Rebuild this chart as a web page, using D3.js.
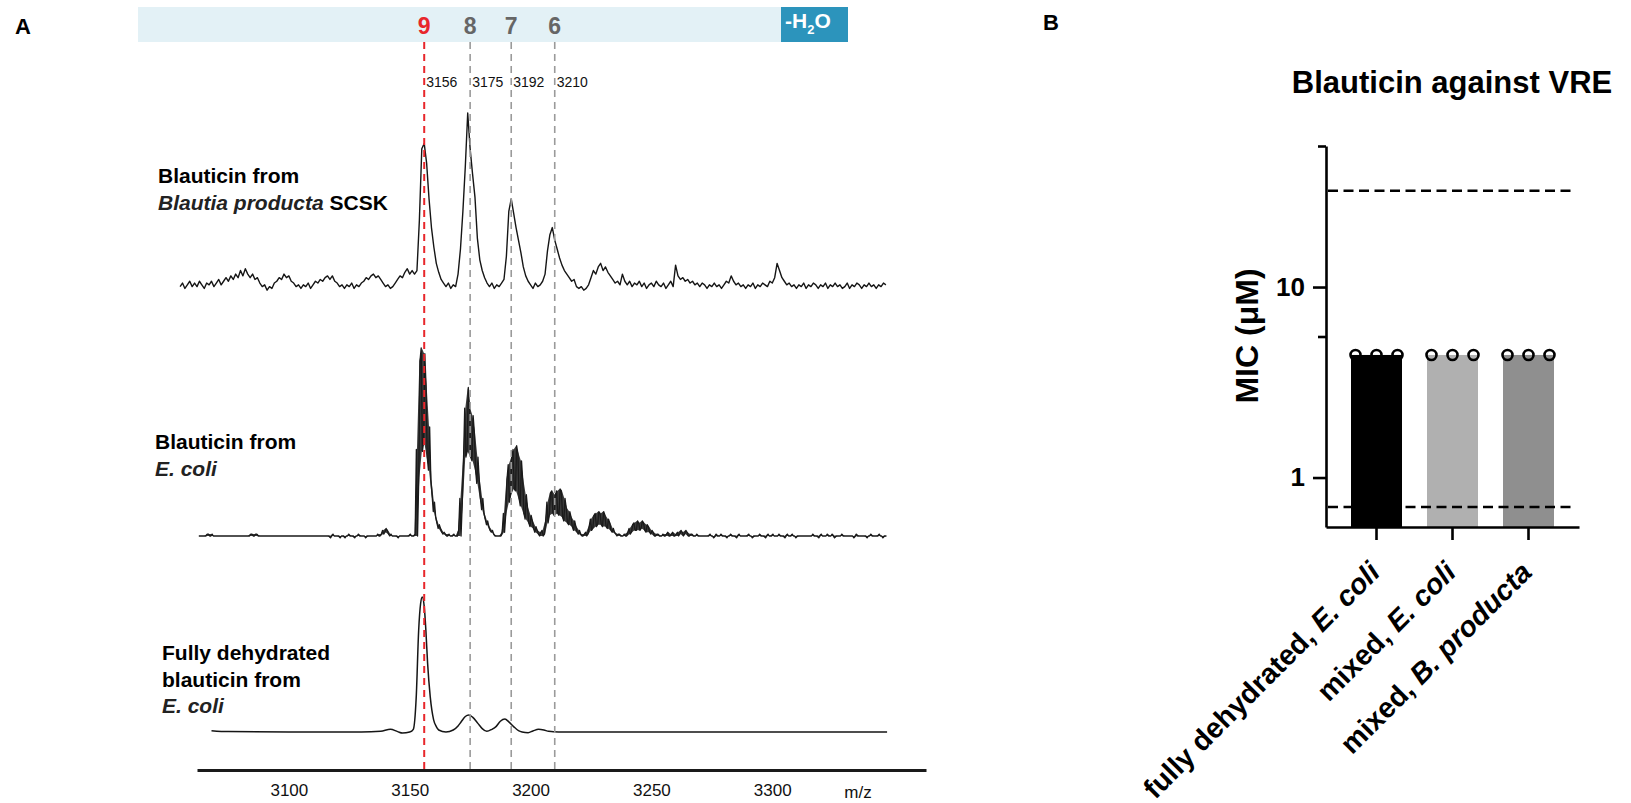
<!DOCTYPE html>
<html>
<head>
<meta charset="utf-8">
<script src="https://cdn.jsdelivr.net/npm/d3@7"></script>
<style>
  html, body { margin: 0; padding: 0; background: #fff; }
  svg { display: block; font-family: "Liberation Sans", Arial, Helvetica, sans-serif; }
</style>
</head>
<body>
<svg id="fig" width="1631" height="803"></svg>
<script>
// ---------------- Panel A: MALDI-TOF spectra ----------------
const mzTicks = [3100, 3150, 3200, 3250, 3300];
const dehydrations = [9, 8, 7, 6];
const dehydrationMz = [3156, 3175, 3192, 3210];

// Blauticin from Blautia producta SCSK: relative intensity, 1 m/z bins from 3055
const scskStart = 3055;
const scskIntensity = [
  3,5,2,4,6,3,5,3,6,4,   2,5,4,6,3,5,7,4,6,8,   6,9,7,10,8,12,9,13,10,8,
  10,7,8,5,3,4,1,3,2,5,  6,8,7,10,8,9,6,5,3,4,  2,4,3,5,2,4,6,5,7,6,
  8,9,7,9,6,5,3,4,2,4,   3,5,2,4,3,5,6,8,7,9,   10,8,9,7,5,3,4,2,3,5,
  7,9,8,11,13,10,12,10,12,40,
  80,83,72,52,36,25,16,11,7,5,
  3,5,2,4,3,10,24,45,70,100,
  80,66,53,30,18,12,8,5,3,5,
  2,4,3,5,7,20,45,52,44,36,
  29,22,14,9,6,4,2,5,3,4,
  6,10,23,32,36,29,24,19,15,12,
  10,8,6,7,3,2,3,1,2,4,
  8,12,10,14,16,12,14,11,9,7,
  5,6,4,10,6,4,6,3,5,4,
  6,3,5,2,4,5,3,6,4,3,
  5,2,4,6,3,15,9,7,8,6,
  7,5,6,4,5,3,5,4,2,4,
  3,5,3,4,2,4,6,5,9,6,
  4,5,3,4,2,4,3,5,2,4,
  3,5,4,3,6,5,8,16,12,8,
  6,4,5,3,4,2,4,3,5,2,
  4,3,5,4,2,4,3,5,2,4,
  3,5,3,4,2,3,5,2,4,3,
  5,4,2,4,3,5,3,4,2,4,
  3,5,4
];

// Blauticin from E. coli: per-bin max / min intensity, 1 m/z bins from 3063
const ecoliStart = 3063;
const ecoliMax = [
  0,0,0,1,1,1,0,0,0,0,   0,0,0,0,0,0,0,0,0,0,   0,1,1,1,1,0,0,0,0,0,
  0,0,0,0,0,0,0,0,0,0,   0,0,0,0,0,0,0,0,0,0,   0,0,0,0,0,1,0,0,0,0,
  0,0,1,0,0,0,1,0,0,0,   0,0,0,0,1,1,3,4,3,1,   0,0,0,0,0,0,0,1,0,1,
  46,93,100,97,80,58,30,18,10,6,
  4,2,1,1,0,1,0,3,20,40,
  68,79,68,64,55,42,30,20,12,8,
  5,3,1,0,0,2,12,30,38,42,
  46,48,44,40,30,22,15,11,8,5,
  3,2,3,8,18,23,24,22,24,25,
  24,20,15,13,10,8,5,3,1,1,
  2,5,9,11,12,13,12,13,11,9,
  7,4,2,1,1,0,1,2,4,6,
  7,8,7,8,7,6,5,3,2,1,
  1,0,1,1,2,1,2,1,2,3,
  2,3,2,1,1,0,1,0,0,0,
  0,1,0,0,1,0,1,0,0,0,
  1,0,0,1,0,0,0,1,0,0,
  0,0,1,0,0,1,0,1,0,0,
  1,0,0,1,0,1,0,0,0,0,
  0,0,0,0,1,0,0,1,0,0,
  1,0,1,0,0,0,1,0,0,0,
  0,0,1,0,0,0,0,0,1,0,
  0,1,0,0,0
];
const ecoliMin = [
  0,0,0,0,0,0,0,0,0,0,   0,0,0,0,0,0,0,0,0,0,   0,0,0,0,0,0,0,0,0,0,
  0,0,0,0,0,0,0,0,0,0,   0,0,0,0,0,0,0,0,0,0,   0,0,0,0,-1,0,0,0,-1,0,
  -1,0,0,0,-1,0,0,0,0,-1, 0,0,0,0,0,0,1,2,1,0,  0,0,-1,0,0,0,0,0,0,0,
  0,31,45,50,42,35,22,13,7,4,
  2,1,0,0,0,0,0,0,0,18,
  42,45,42,40,35,28,20,14,9,6,
  3,2,0,0,0,0,2,12,18,22,
  25,24,20,16,12,9,7,5,4,2,
  1,0,0,1,7,11,12,11,12,11,
  10,8,7,6,5,3,2,1,0,0,
  0,1,3,4,5,6,6,5,5,4,
  3,2,1,0,0,0,0,0,1,2,
  3,3,3,4,3,2,2,1,0,0,
  0,0,0,0,0,0,0,0,0,1,
  0,1,0,0,0,0,0,0,0,0,
  0,0,0,-1,0,0,0,0,-1,0,
  0,0,-1,0,0,0,0,0,0,-1,
  0,0,0,0,-1,0,0,0,0,0,
  0,0,-1,0,0,0,0,-1,0,0,
  0,0,0,0,0,0,-1,0,0,0,
  0,0,0,-1,0,0,0,0,0,0,
  0,-1,0,0,0,0,-1,0,0,0,
  0,0,0,-1,0
];

// Fully dehydrated blauticin from E. coli (smooth profile)
const dehydMz = [3068, 3075, 3100, 3130, 3138, 3142, 3145, 3147, 3150, 3151.5,
  3152.7, 3153.7, 3154.5, 3155.2, 3156, 3156.7, 3157.4, 3158.5, 3159.9, 3161,
  3162, 3165, 3168, 3170, 3171.3, 3173, 3174.5, 3176, 3178.2, 3180,
  3181.9, 3184, 3185.7, 3187.5, 3189.4, 3191, 3193, 3195, 3196.5, 3199,
  3201, 3203.3, 3205.5, 3207.5, 3211.6, 3250, 3300, 3347.5];
const dehydIntensity = [1, 0.3, 0, 0, 0.5, 2, 0.3, -0.8, 0, 2,
  26, 75, 95, 100, 93, 75, 51, 26, 9, 4,
  1.5, 0, 1.5, 4.5, 7.6, 11.5, 12.6, 11, 6.4, 2.5,
  0.5, 2, 4, 8, 9.6, 7.5, 4, 1, 0, -0.5,
  0.8, 2, 1.5, 0.5, 0, 0, 0, 0];

// ---------------- Panel B: MIC against VRE ----------------
const categories = ["fully dehydrated, E. coli", "mixed, E. coli", "mixed, B. producta"];
const micValues = [4.4, 4.4, 4.4];
const micReplicates = [[4.4, 4.4, 4.4], [4.4, 4.4, 4.4], [4.4, 4.4, 4.4]];
const barColors = ["#000000", "#b0b0b0", "#8f8f8f"];
const concentrationRange = [32, 0.7];
const yMajorTicks = [1, 10];
const yMinorTicks = [5.5, 55];

const svg = d3.select("#fig");
svg.append("rect").attr("width", 1631).attr("height", 803).attr("fill", "#fff");

// ===== Panel A =====
const A = svg.append("g");
A.append("text").attr("x", 15).attr("y", 34).attr("font-size", 22).attr("font-weight", "bold").text("A");

const x = d3.scaleLinear().domain([3062, 3363.6]).range([197, 926]);
const yScsk = d3.scaleLinear().domain([0, 100]).range([292, 113]);
const yEcoli = d3.scaleLinear().domain([0, 100]).range([536, 348]);
const yDehyd = d3.scaleLinear().domain([0, 100]).range([732, 597]);

// dehydration banner
A.append("rect").attr("x", 138).attr("y", 7).attr("width", 643).attr("height", 35).attr("fill", "#e3f1f6");
A.append("rect").attr("x", 781).attr("y", 7).attr("width", 67).attr("height", 35).attr("fill", "#2c94bc");
const h2o = A.append("text").attr("x", 785).attr("y", 28).attr("fill", "#fff")
  .attr("font-size", 21).attr("font-weight", "bold");
h2o.append("tspan").text("-H");
h2o.append("tspan").attr("font-size", 13).attr("dy", 6).text("2");
h2o.append("tspan").attr("dy", -6).text("O");

// spectra
const lineGen = d3.line();
A.append("path")
  .attr("d", lineGen(scskIntensity.map((v, i) => [x(scskStart + i), yScsk(v)])))
  .attr("fill", "none").attr("stroke", "#151515").attr("stroke-width", 1.4).attr("stroke-linejoin", "round");

// dense E. coli spectrum: min/max band per bin plus a zigzag through the extremes
const ecoliBins = ecoliMax.map((mx, i) => ({ m: ecoliStart + i, hi: mx, lo: ecoliMin[i] }));
A.append("path")
  .attr("d", d3.area().x(d => x(d.m)).y0(d => yEcoli(d.lo)).y1(d => yEcoli(d.hi))(ecoliBins))
  .attr("fill", "#3a3a3a").attr("stroke", "none");
const ecoliPts = [];
ecoliBins.forEach((d, i) => {
  const first = i % 2 ? d.lo : d.hi, second = i % 2 ? d.hi : d.lo;
  ecoliPts.push([x(d.m - 0.25), yEcoli(first)], [x(d.m + 0.25), yEcoli(second)]);
});
A.append("path").attr("d", lineGen(ecoliPts))
  .attr("fill", "none").attr("stroke", "#1a1a1a").attr("stroke-width", 1.3).attr("stroke-linejoin", "round");

A.append("path")
  .attr("d", d3.line().curve(d3.curveMonotoneX)(dehydMz.map((m, i) => [x(m), yDehyd(dehydIntensity[i])])))
  .attr("fill", "none").attr("stroke", "#151515").attr("stroke-width", 1.5);

// sample labels
function multiLine(g, x0, baselines, lines) {
  lines.forEach((parts, li) => {
    const t = g.append("text").attr("x", x0).attr("y", baselines[li])
      .attr("font-size", 21).attr("font-weight", "bold").attr("fill", "#000");
    parts.forEach(p => {
      t.append("tspan").attr("font-style", p[1] ? "italic" : "normal")
        .attr("fill", p[1] ? "#222" : "#000").text(p[0]);
    });
  });
}
multiLine(A, 158, [183, 210], [[["Blauticin from", false]], [["Blautia producta", true], [" SCSK", false]]]);
multiLine(A, 155, [449, 476], [[["Blauticin from", false]], [["E. coli", true]]]);
multiLine(A, 162, [660, 687, 713], [[["Fully dehydrated", false]], [["blauticin from", false]], [["E. coli", true]]]);

// dehydration marker lines, numbers and masses
dehydrationMz.forEach((m, i) => {
  const red = dehydrations[i] === 9;
  A.append("line").attr("x1", x(m)).attr("x2", x(m)).attr("y1", 42).attr("y2", 769)
    .attr("stroke", red ? "#e8262b" : "#9a9a9a").attr("stroke-width", red ? 2 : 1.6)
    .attr("stroke-dasharray", "7,5");
  A.append("text").attr("x", x(m)).attr("y", 34).attr("text-anchor", "middle")
    .attr("font-size", 23).attr("font-weight", "bold").attr("fill", red ? "#e8262b" : "#666")
    .text(dehydrations[i]);
  A.append("text").attr("x", x(m) + 2).attr("y", 87).attr("font-size", 14).attr("fill", "#111")
    .text(m);
});

// m/z axis
const axA = A.append("g").attr("transform", "translate(0,770)")
  .call(d3.axisBottom(x).tickValues(mzTicks).tickSize(0).tickSizeOuter(0).tickPadding(14).tickFormat(d3.format("d")));
axA.select(".domain").attr("stroke", "#1a1a1a").attr("stroke-width", 3);
axA.selectAll("text").attr("font-size", 17).attr("fill", "#111").attr("font-family", "Liberation Sans, Arial, sans-serif");
A.append("text").attr("x", 858).attr("y", 798).attr("text-anchor", "middle").attr("font-size", 17).attr("fill", "#111").text("m/z");

// ===== Panel B =====
const B = svg.append("g");
B.append("text").attr("x", 1043).attr("y", 30).attr("font-size", 22).attr("font-weight", "bold").text("B");
B.append("text").attr("x", 1452).attr("y", 93).attr("text-anchor", "middle")
  .attr("font-size", 31).attr("font-weight", "bold").text("Blauticin against VRE");

const y = d3.scaleLog().domain([0.55, 55]).range([527, 146]);
const xb = d3.scaleBand().domain(categories).range([1326, 1579]).paddingInner(0.329).paddingOuter(0.329);

// bars
B.selectAll("rect.bar").data(categories).enter().append("rect").attr("class", "bar")
  .attr("x", d => xb(d)).attr("width", xb.bandwidth())
  .attr("y", (d, i) => y(micValues[i])).attr("height", (d, i) => y.range()[0] - y(micValues[i]))
  .attr("fill", (d, i) => barColors[i]);

// tested concentration range
concentrationRange.forEach(c => {
  B.append("line").attr("x1", 1328).attr("x2", 1575).attr("y1", y(c)).attr("y2", y(c))
    .attr("stroke", "#000").attr("stroke-width", 2.6).attr("stroke-dasharray", "10,5.5");
});

// replicate points
categories.forEach((c, i) => {
  micReplicates[i].forEach((v, j) => {
    B.append("circle").attr("cx", xb(c) + xb.bandwidth() / 2 + (j - 1) * 21).attr("cy", y(v))
      .attr("r", 5).attr("fill", "none").attr("stroke", "#000").attr("stroke-width", 2.6);
  });
});

// axes
const yAx = B.append("g").attr("transform", "translate(1326,0)")
  .call(d3.axisLeft(y).tickValues(yMajorTicks).tickFormat(d3.format("d")).tickSize(13).tickSizeOuter(0).tickPadding(8));
yAx.select(".domain").attr("stroke-width", 2.6);
yAx.selectAll(".tick line").attr("stroke-width", 2.6);
yAx.selectAll("text").attr("font-size", 26).attr("font-weight", "bold").attr("fill", "#000")
  .attr("font-family", "Liberation Sans, Arial, sans-serif");
const yMin = B.append("g").attr("transform", "translate(1326,0)")
  .call(d3.axisLeft(y).tickValues(yMinorTicks).tickFormat("").tickSize(8).tickSizeOuter(0));
yMin.select(".domain").remove();
yMin.selectAll(".tick line").attr("stroke-width", 2.6);

const xAx = B.append("g").attr("transform", "translate(0,527)")
  .call(d3.axisBottom(xb).tickSize(13).tickSizeOuter(0).tickFormat(""));
xAx.select(".domain").attr("stroke-width", 2.6);
xAx.selectAll(".tick line").attr("stroke-width", 2.6);

// rotated category labels, species names in italics
categories.forEach(c => {
  const [prefix, species] = c.split(", ");
  const t = B.append("text")
    .attr("transform", `translate(${xb(c) + xb.bandwidth() / 2 + 5},574) rotate(-45)`)
    .attr("text-anchor", "end").attr("font-size", 28.5).attr("font-weight", "bold");
  t.append("tspan").text(prefix + ", ");
  t.append("tspan").attr("font-style", "italic").text(species);
});

B.append("text").attr("transform", "translate(1246,336) rotate(-90)").attr("dy", "0.36em")
  .attr("text-anchor", "middle").attr("font-size", 32).attr("font-weight", "bold").text("MIC (\u03bcM)");
</script>
</body>
</html>
